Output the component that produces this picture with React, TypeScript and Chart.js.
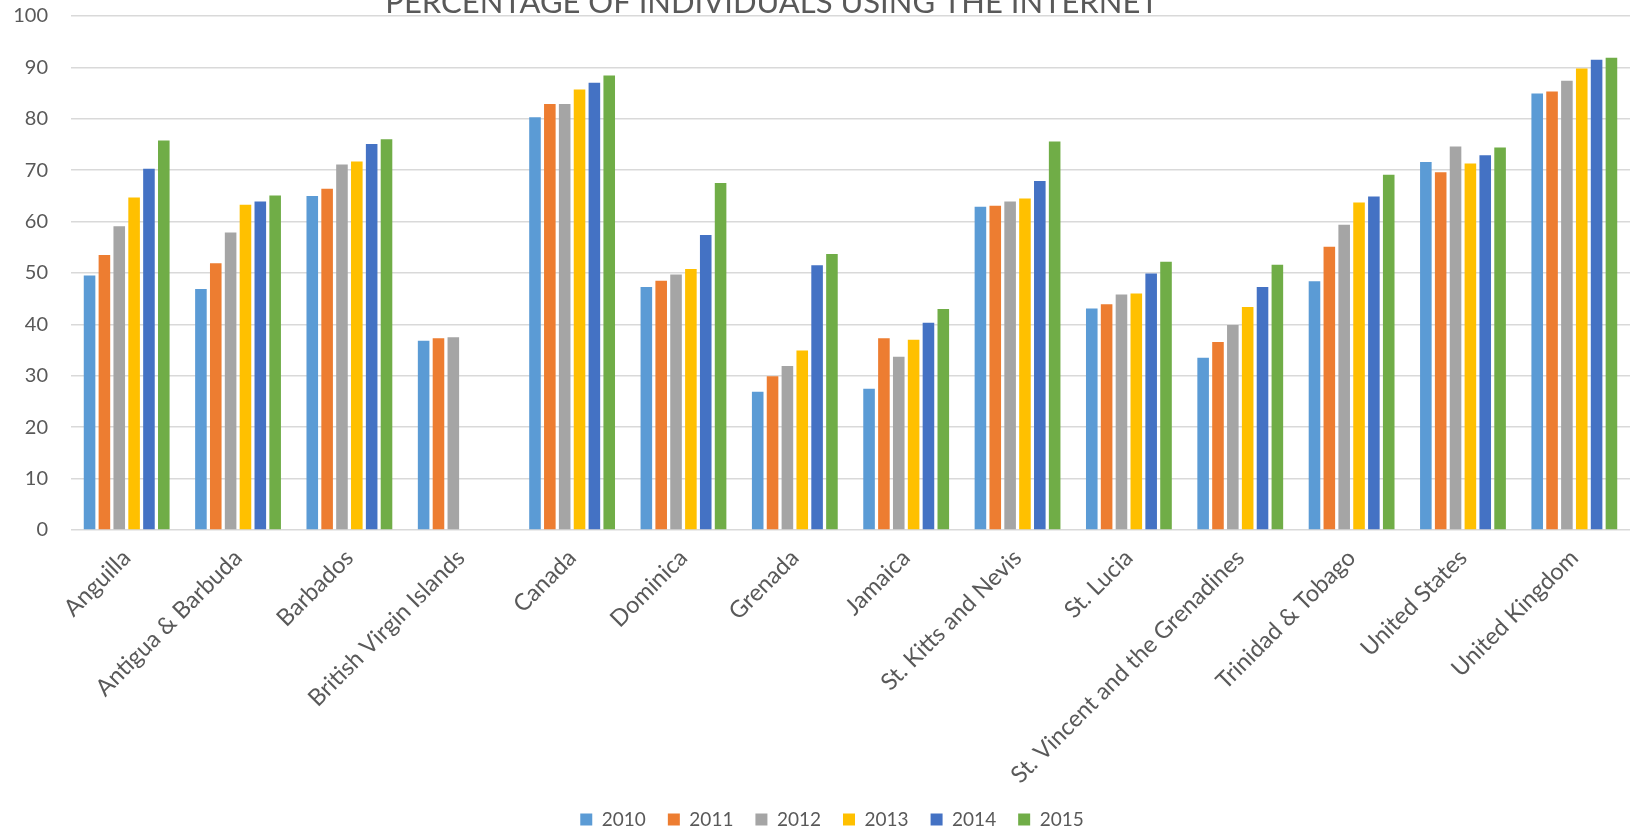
import React, { useEffect, useRef } from "react";
import { Chart, registerables } from "chart.js";

Chart.register(...registerables);

const TITLE = "PERCENTAGE OF INDIVIDUALS USING THE INTERNET";

const categories = [
  "Anguilla",
  "Antigua & Barbuda",
  "Barbados",
  "British Virgin Islands",
  "Canada",
  "Dominica",
  "Grenada",
  "Jamaica",
  "St. Kitts and Nevis",
  "St. Lucia",
  "St. Vincent and the Grenadines",
  "Trinidad & Tobago",
  "United States",
  "United Kingdom",
];

const years = ["2010", "2011", "2012", "2013", "2014", "2015"];

const values2010 = [49.5, 46.9, 65.0, 36.8, 80.3, 47.3, 26.9, 27.5, 62.9, 43.1, 33.5, 48.4, 71.6, 84.9];
const values2011 = [53.5, 51.9, 66.4, 37.3, 82.9, 48.5, 29.9, 37.3, 63.1, 43.9, 36.6, 55.1, 69.6, 85.3];
const values2012 = [59.1, 57.9, 71.1, 37.5, 82.9, 49.7, 31.9, 33.7, 63.9, 45.8, 39.9, 59.4, 74.6, 87.4];
const values2013 = [64.7, 63.3, 71.7, null, 85.7, 50.8, 34.9, 37.0, 64.5, 46.0, 43.4, 63.7, 71.3, 89.8];
const values2014 = [70.3, 63.9, 75.1, null, 87.0, 57.4, 51.5, 40.3, 67.9, 49.9, 47.3, 64.9, 72.9, 91.5];
const values2015 = [75.8, 65.1, 76.0, null, 88.4, 67.5, 53.7, 43.0, 75.6, 52.2, 51.6, 69.1, 74.4, 91.9];

const colors = ["#5B9BD5", "#ED7D31", "#A5A5A5", "#FFC000", "#4472C4", "#70AD47"];

const seriesValues = [values2010, values2011, values2012, values2013, values2014, values2015];

const yTicksMin = 0;
const yTicksMax = 100;
const yTicksStep = 10;

const FONT = "Lato, 'Open Sans', sans-serif";
const TEXT_COLOR = "#595959";
const GRID_COLOR = "#D9D9D9";

const titlePlugin = {
  id: "clippedTitle",
  afterDraw(chart: any) {
    const ctx = chart.ctx;
    ctx.save();
    ctx.font = `400 31px ${FONT}`;
    ctx.fillStyle = TEXT_COLOR;
    ctx.textAlign = "center";
    ctx.textBaseline = "alphabetic";
    ctx.fillText(TITLE, 772, 13);
    ctx.restore();
  },
};

const legendShiftPlugin = {
  id: "legendShift",
  afterLayout(chart: any) {
    const lg = chart.legend;
    if (!lg) return;
    lg.left += 17;
    lg.right += 17;
    lg.top += 3;
    lg.bottom += 3;
  },
};

export default function App() {
  const canvasRef = useRef<HTMLCanvasElement | null>(null);

  useEffect(() => {
    document.body.style.margin = "0";
    const canvas = canvasRef.current;
    if (!canvas) return;
    const chart = new Chart(canvas, {
      type: "bar",
      data: {
        labels: categories,
        datasets: years.map((y, i) => ({
          label: y,
          data: seriesValues[i],
          backgroundColor: colors[i],
          borderWidth: 0,
          categoryPercentage: 0.8,
          barPercentage: 0.78,
        })),
      },
      options: {
        animation: false,
        responsive: false,
        devicePixelRatio: 1,
        layout: { autoPadding: false, padding: { top: 16, right: 1, left: 0, bottom: 0 } },
        plugins: {
          title: { display: false },
          tooltip: { enabled: false },
          legend: {
            position: "bottom",
            labels: {
              boxWidth: 12,
              boxHeight: 12,
              padding: 22,
              color: TEXT_COLOR,
              font: { family: FONT, size: 19 },
            },
          },
        },
        scales: {
          x: {
            grid: { display: false },
            border: { display: false },
            ticks: {
              color: TEXT_COLOR,
              font: { family: FONT, size: 23.5 },
              maxRotation: 45,
              minRotation: 45,
              autoSkip: false,
              padding: 6,
            },
            afterFit(scale: any) {
              scale.height = 255;
            },
          },
          y: {
            min: yTicksMin,
            max: yTicksMax,
            grid: { color: GRID_COLOR, lineWidth: 1.5, drawTicks: false },
            border: { display: false },
            ticks: {
              stepSize: yTicksStep,
              color: TEXT_COLOR,
              font: { family: FONT, size: 20 },
              padding: 23,
            },
            afterFit(scale: any) {
              scale.width = 71;
              scale.paddingTop = 0;
              scale.paddingBottom = 0;
            },
          },
        },
      },
      plugins: [titlePlugin, legendShiftPlugin],
    });
    return () => chart.destroy();
  }, []);

  return (
    <div style={{ width: 1631, height: 836 }}>
      <canvas ref={canvasRef} width={1631} height={836} />
    </div>
  );
}
